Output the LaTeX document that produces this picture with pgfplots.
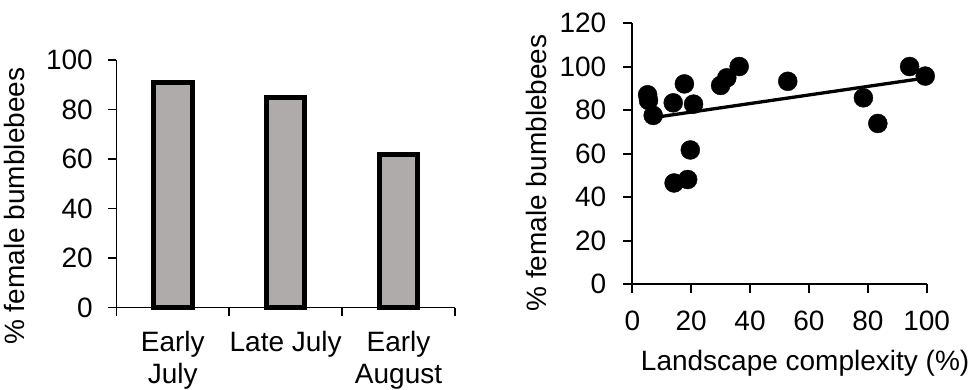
\documentclass[border=0pt]{standalone}
\usepackage{fontspec}
\setmainfont{Liberation Sans}
\usepackage{pgfplots}
\pgfplotsset{compat=1.18}
\definecolor{barfill}{RGB}{175,171,171}
\newcommand{\lbl}{\fontsize{28}{31.5}\selectfont}
\begin{document}
\begin{tikzpicture}
\path[use as bounding box] (0pt,0pt) rectangle (972pt,390pt);
% Left panel: share of females per sampling period
\begin{axis}[
  at={(116.3pt,82.3pt)}, anchor=south west,
  scale only axis, width=338.7pt, height=247.7pt,
  xmin=-0.5, xmax=2.5, ymin=0, ymax=100,
  axis x line*=bottom, axis y line*=left,
  axis line style={black, line width=1.5pt},
  ytick={0,20,...,100},
  xtick={0,1,2},
  xticklabels={{Early\\July},{Late July},{Early\\August}},
  minor xtick={-0.5,0.5,1.5,2.5},
  major x tick style={draw=none},
  tick align=outside, major tick length=8pt, minor tick length=8pt,
  every tick/.append style={black, line width=1.5pt},
  ticklabel style={font=\lbl},
  /pgf/number format/assume math mode=true,
  xticklabel style={align=center, yshift=-12pt},
  yticklabel style={xshift=-12pt},
  clip=false,
  ylabel={\% female bumblebees},
  ylabel style={font=\lbl, at={(axis description cs:-0.3,0.41)}, anchor=center},
  ybar, bar width=38.5pt,
]
\addplot[draw=black, line width=5pt, fill=barfill] coordinates {(0,91) (1,85) (2,62)};
\end{axis}
% Right panel: share of females against landscape complexity
\begin{axis}[
  at={(632.3pt,106pt)}, anchor=south west,
  scale only axis, width=294.4pt, height=260.7pt,
  xmin=0, xmax=100, ymin=0, ymax=120,
  axis x line*=bottom, axis y line*=left,
  axis line style={black, line width=2pt},
  xtick={0,20,...,100}, ytick={0,20,...,120},
  tick align=outside, major tick length=9pt,
  every tick/.append style={black, line width=2pt},
  ticklabel style={font=\lbl},
  /pgf/number format/assume math mode=true,
  xticklabel style={yshift=-14pt},
  yticklabel style={xshift=-13.5pt},
  clip=false,
  ylabel={\% female bumblebees},
  ylabel style={font=\lbl, at={(axis description cs:-0.327,0.426)}, anchor=center},
  xlabel={Landscape complexity (\%)},
  xlabel style={font=\lbl, at={(axis description cs:0.587,-0.333)}, anchor=base},
]
\addplot[only marks, mark=*, mark size=9.5pt, black] coordinates {
  (5.2,87.1) (5.5,84.5) (7.1,77.6) (13.9,83.4) (17.7,92.1) (20.8,82.8)
  (14.2,46.5) (18.8,48.1) (19.7,61.7) (30.0,91.4) (32.1,94.9) (36.3,100.1)
  (52.8,93.3) (78.5,85.7) (83.4,73.9) (94.2,100.1) (99.5,95.7)
};
\addplot[black, line width=3.3pt, no marks] coordinates {(5.2,76.2) (99.5,94.8)};
\end{axis}
\end{tikzpicture}
\end{document}
